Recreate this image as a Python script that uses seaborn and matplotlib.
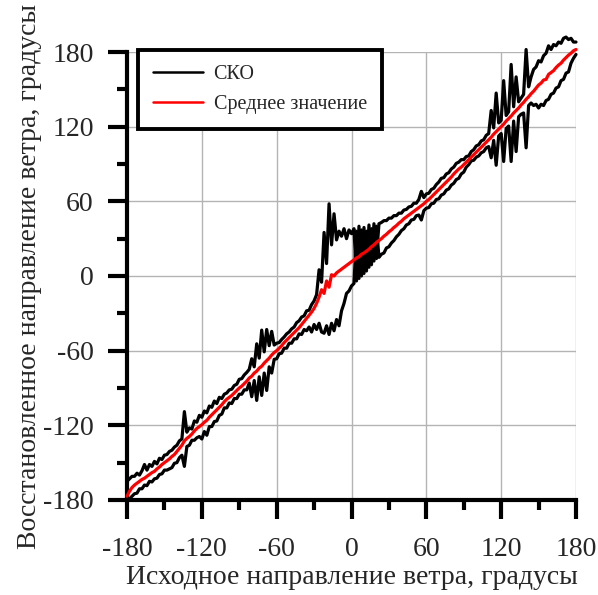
import numpy as np
import pandas as pd
import matplotlib
matplotlib.use("Agg")
import matplotlib.pyplot as plt
import seaborn as sns
from matplotlib.ticker import MultipleLocator
from matplotlib.lines import Line2D

# ---------------- data ----------------
x_deg = list(range(-180, 181, 2))

mean_val = [
    -177, -173, -170, -168, -166.5, -165, -163.5, -162.5, -161, -159.5,
    -158, -157, -155, -153.5, -151.5, -150, -148.5, -147, -145, -143.5,
    -141, -138.5, -136, -132.5, -130.5, -129, -127, -124.5, -122.5, -121,
    -119.5, -117.5, -116, -113.5, -111.5, -109.5, -107.5, -105.5, -103.5, -101,
    -99, -97.5, -96, -94, -92, -90, -88.5, -86.5, -84.5, -82,
    -80.5, -78, -76.5, -74, -72.5, -70, -68, -66, -63.5, -61.5,
    -60, -58, -56, -53.5, -51.5, -49.5, -47.5, -45.5, -43.5, -41.5,
    -39, -36.5, -34, -31.5, -29, -26, -22, -17, -11, -14,
    -4, -9, 1, 0, 2.5, 4, 5.5, 7, 8.5, 10,
    11.5, 13, 14.5, 15.5, 17.5, 18.5, 20, 21.5, 23.5, 25,
    27, 28.5, 30, 32, 33.5, 35.5, 37, 39, 40.5, 42.5,
    44, 46, 47.5, 49, 50.5, 52, 53.5, 55, 56.5, 58,
    60, 61.5, 63.5, 65.5, 67.5, 69.5, 71.5, 73.5, 75.5, 77.5,
    79.5, 82, 84, 86, 87.5, 89.5, 91.5, 93.5, 95.5, 97.5,
    99.5, 101.5, 103.5, 105.5, 107.5, 109.5, 111.5, 114, 116, 118,
    120, 122, 124.5, 126.5, 128.5, 131, 133, 135, 137.5, 139.5,
    142, 144, 146.5, 148.5, 151, 153.5, 155, 157.5, 158, 162,
    163.5, 165, 167.5, 169.5, 171, 173.5, 175.5, 177.5, 179, 181,
    182,
]

sko_upper = [
    -165, -163, -161, -161, -158.5, -160, -156.5, -151.5, -156, -151.5,
    -153, -149, -151, -146.5, -147.5, -144, -143.5, -141, -140, -137.5,
    -136, -132.5, -131, -109, -125.5, -122, -123, -116.5, -117.5, -112,
    -113.5, -108.5, -110, -104.5, -105.5, -100.5, -102.5, -97.5, -98.5, -95,
    -94, -91.5, -91, -88, -87, -83, -82.5, -79.5, -77.5, -75,
    -66.5, -73, -54.5, -66, -43.5, -61, -43, -56, -44.5, -55.5,
    -54, -53.5, -51, -49, -46.5, -45, -42.5, -41, -37.5, -36,
    -33, -32, -28, -27.5, -23, -20, -15, 5, -5, 35,
    10, 58, 25, 50, 29, 36, 32, 38, 30, 37,
    34, 38, -4, 40, 0, 39, 4, 41, 9, 42,
    14, 42, 43, 44.5, 44.5, 46.5, 46.5, 48.5, 48.5, 50.5,
    50.5, 53, 53.5, 55.5, 56, 58.5, 58.5, 61.5, 68, 63,
    66, 66.5, 69.5, 70.5, 73.5, 75.5, 78.5, 79, 82, 83,
    86, 87.5, 90.5, 91.5, 93.5, 93.5, 96, 96.5, 100, 101.5,
    104.5, 105.5, 108.5, 109.5, 113, 114.5, 133, 119, 147, 123,
    125, 157, 129, 132, 170, 136, 160, 140, 143, 146,
    182, 152, 160, 166, 168, 173, 172, 177, 179, 185,
    182, 186, 185, 188, 187, 191, 192, 190, 191, 188,
    188,
]

sko_lower = [
    -180, -179, -177, -175, -174.5, -171, -171, -168, -168.5, -165,
    -165.5, -163, -162.5, -159.5, -159, -156, -156, -155, -154, -150.5,
    -150, -146, -144, -153, -137, -136, -132, -132, -130, -129,
    -131, -125, -128, -121, -121, -117, -116.5, -112, -111, -106,
    -106, -102, -102.5, -98.5, -98.5, -95, -95, -91.5, -91.5, -86,
    -97, -84, -100, -81, -96, -78, -92, -73, -78, -67,
    -66.5, -62.5, -62, -58, -58, -54, -54, -50.5, -50.5, -46.5,
    -47, -43, -44, -41, -45, -39, -43, -38, -45, -46,
    -40, -47, -38, -44, -35, -40, -28, -22, -14, -12,
    -8, -6, 36, -2, 37, 2, 36, 7, 38, 12,
    40, 15, 17.5, 18.5, 22.5, 23.5, 26.5, 28.5, 31.5, 33.5,
    36.5, 38, 41, 42, 45, 45.5, 48.5, 49, 45, 52.5,
    54.5, 55, 58, 58.5, 61.5, 62, 65, 66, 69, 70,
    73, 74.5, 77.5, 78.5, 82, 83.5, 87.5, 89.5, 92.5, 93,
    95.5, 96.5, 99, 100, 103, 104, 95, 109, 89, 112.5,
    114.5, 92, 118.5, 120.5, 92, 124.5, 100, 128, 130, 131,
    103, 137, 139, 137, 138, 135, 138, 137, 141, 142,
    146, 147, 151, 152, 157, 158, 163, 164, 171, 175,
    178,
]

tick_values = [-180, -120, -60, 0, 60, 120, 180]
x_label = "Исходное направление ветра, градусы"
y_label = "Восстановленное направление ветра, градусы"
legend_labels = ["СКО", "Среднее значение"]

# ---------------- style ----------------
sns.set_theme(style="white")
plt.rcParams["font.family"] = ["Liberation Serif", "DejaVu Serif"]
plt.rcParams["axes.unicode_minus"] = False

df = pd.DataFrame({"x": x_deg, "mean": mean_val,
                   "up": sko_upper, "low": sko_lower})

fig = plt.figure(figsize=(5.98, 5.95), dpi=100)
ax = fig.add_axes([0.2124, 0.1597, 0.7508, 0.7529])

lw = 2.3
for col in ["up", "low"]:
    sns.lineplot(data=df, x="x", y=col, color="black", linewidth=lw,
                 ax=ax, clip_on=False, zorder=3)
sns.lineplot(data=df, x="x", y="mean", color="#ff0000", linewidth=lw,
             ax=ax, clip_on=False, zorder=4)

ax.set_xlim(-180, 180)
ax.set_ylim(-180, 180)
ax.set_xticks(tick_values)
ax.set_yticks(tick_values)
ax.set_xticklabels([str(v) for v in tick_values])
ax.set_yticklabels([str(v) for v in tick_values])
ax.xaxis.set_minor_locator(MultipleLocator(30))
ax.yaxis.set_minor_locator(MultipleLocator(30))

ax.grid(True, which="major", color="#b4b4b4", linewidth=1.0, zorder=0)
ax.set_axisbelow(True)

for s in ["top", "right"]:
    ax.spines[s].set_visible(False)
for s in ["left", "bottom"]:
    ax.spines[s].set_linewidth(3)
    ax.spines[s].set_color("black")

ax.tick_params(which="both", bottom=True, left=True, top=False, right=False)
ax.tick_params(which="major", direction="out", length=14, width=3,
               color="black", labelsize=20)
ax.tick_params(which="minor", direction="out", length=7, width=3,
               color="black")
ax.tick_params(axis="x", which="major", pad=13)
ax.tick_params(axis="y", which="major", pad=10)

ax.set_xlabel(x_label, fontsize=20, labelpad=2)
ax.set_ylabel(y_label, fontsize=20, labelpad=1)

handles = [Line2D([], [], color="black", linewidth=1.8),
           Line2D([], [], color="#ff0000", linewidth=1.8)]
leg = ax.legend(handles, legend_labels, loc="upper left",
                bbox_to_anchor=(0.0245, 1.005), borderaxespad=0,
                fontsize=14.5, frameon=True, fancybox=False,
                handlelength=2.5, handletextpad=0.5, labelspacing=0.55,
                borderpad=0.75)
frame = leg.get_frame()
frame.set_edgecolor("black")
frame.set_linewidth(2.8)
frame.set_alpha(1)
leg.set_zorder(10)

fig.savefig("out.png", dpi=100)
